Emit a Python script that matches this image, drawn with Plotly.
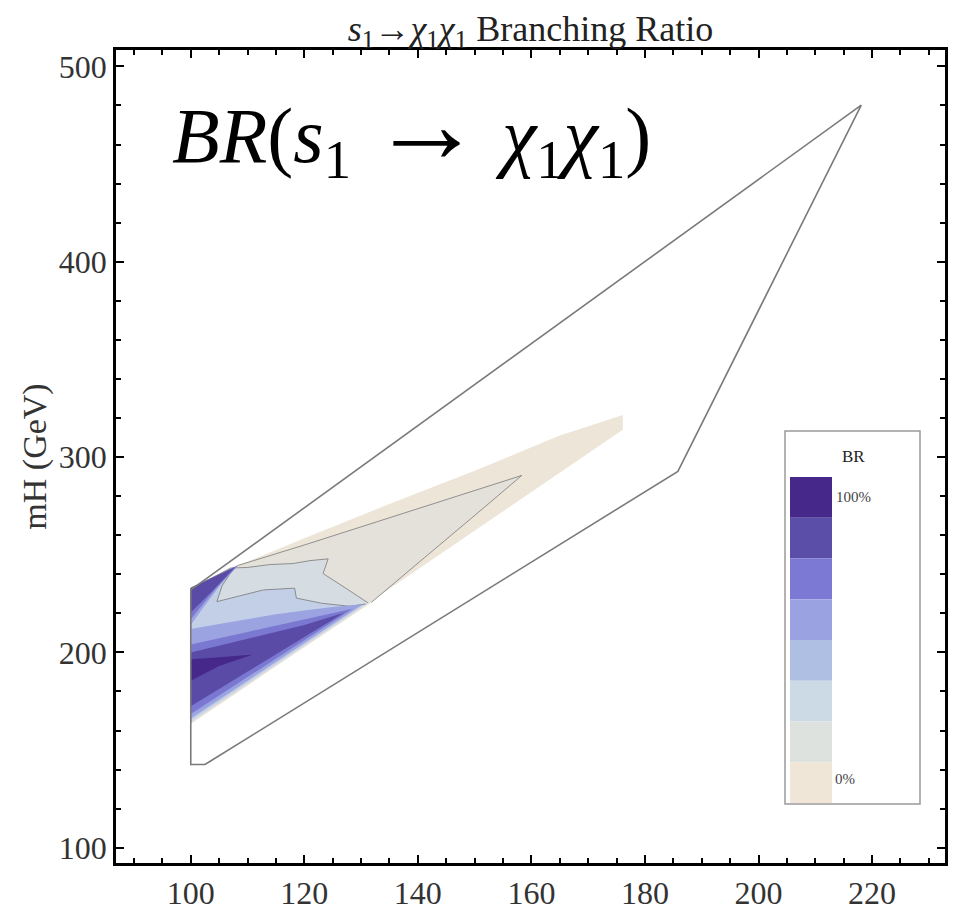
import plotly.graph_objects as go

# ---------------- data ----------------
# allowed-region outline (mS1 vs mH, GeV)
outline_x = [100, 100, 102.5, 185.8, 218.1, 100]
outline_y = [232.0, 142.6, 142.6, 292.7, 480.2, 232.0]

# contour level regions (superlevel sets), lowest level first
lvl1_x = [100, 100, 104, 108.4, 120, 133.3, 150, 165, 176.1, 176.1]
lvl1_y = [163.3, 232.9, 238.5, 244.6, 258.5, 274, 293, 311, 321.6, 314]

lvl2_x = [100, 100, 104, 108.4, 120, 133, 145, 158.3, 152, 145, 138, 131.8]
lvl2_y = [163.8, 232.9, 238.5, 244.6, 255, 267, 278.2, 290.6, 275, 258, 241, 225.6]

lvl3_x = [100, 100, 104, 107, 110, 114, 118, 121, 124.2, 123.3, 127.5, 131.2]
lvl3_y = [164.3, 232.9, 238.5, 243.2, 243.5, 245, 245.5, 247, 247.9, 240.4, 232.5, 225.4]

lvl4_x = [100, 100, 104, 107.6, 105.5, 104.6, 108, 112.8, 118.3, 118.6, 123, 128, 130.8]
lvl4_y = [165.0, 232.9, 238.5, 243.3, 234, 226, 228.5, 232, 232.9, 227.8, 225.2, 223.6, 224.8]

lvl5_x = [100, 100, 105, 110, 115, 120, 125, 130.3]
lvl5_y = [166.2, 212, 214.5, 217, 219.5, 221.5, 223.3, 224.6]
lvl5b_x = [100, 100, 104, 108.4, 105.5, 102.2]
lvl5b_y = [214, 232.9, 238.5, 244.6, 235.5, 223]

lvl6_x = [100, 100, 110, 120, 128.5]
lvl6_y = [168.5, 204, 210.5, 217, 222.3]
lvl6b_x = [100, 100, 104, 108.2, 104.5, 101.5]
lvl6b_y = [217, 232.9, 238.5, 244.3, 233, 222.5]

lvl7_x = [100, 100, 110, 120, 127]
lvl7_y = [172.5, 200, 207, 214, 220.3]
lvl7b_x = [100, 100, 104, 107.8, 103.5]
lvl7b_y = [220.5, 232.9, 238.5, 243.7, 230.5]

lvl8_x = [100, 100, 105, 111, 105]
lvl8_y = [185.5, 196.5, 197.5, 199, 193]

# legend (BR) swatches, top (100%) to bottom (0%)
legend_colors = ["#46288a", "#5b4ea8", "#7b79d3", "#9aa2e1",
                 "#afbee3", "#cbdae5", "#dde2df", "#efe6d8"]
legend_top_label = "100%"
legend_bottom_label = "0%"

# ---------------- styles ----------------
fill_colors = {
    1: "#eee5d9", 2: "#e4e1db", 3: "#d6dde2", 4: "#c3cfe6",
    5: "#9ba4e0", 6: "#7b78d1", 7: "#5a4ca6", 8: "#46288a",
}
SERIF = "Liberation Serif"

fig = go.Figure()

def region(xs, ys, level, edge=False):
    fig.add_trace(go.Scatter(
        x=xs, y=ys, mode="lines", fill="toself",
        fillcolor=fill_colors[level],
        line=dict(color="rgba(115,115,115,0.75)" if edge else "rgba(0,0,0,0)",
                  width=1 if edge else 0),
        hoverinfo="skip", showlegend=False))

region(lvl1_x, lvl1_y, 1)
region(lvl2_x, lvl2_y, 2, edge=True)
region(lvl3_x, lvl3_y, 3, edge=True)
region(lvl4_x, lvl4_y, 4, edge=True)
region(lvl5_x, lvl5_y, 5)
region(lvl5b_x, lvl5b_y, 5)
region(lvl6_x, lvl6_y, 6)
region(lvl6b_x, lvl6b_y, 6)
region(lvl7_x, lvl7_y, 7)
region(lvl7b_x, lvl7b_y, 7)
region(lvl8_x, lvl8_y, 8)

fig.add_trace(go.Scatter(x=outline_x, y=outline_y, mode="lines",
                         line=dict(color="#7a7a7a", width=1.6),
                         hoverinfo="skip", showlegend=False))

# plot-area geometry in pixels (for placing legend box / labels)
L, R, T, B = 116, 945, 50, 878
W, H = 965, 923

def px(xp, yp):
    return (xp - L) / (R - L), (B - yp) / (B - T)

shapes = []
# legend box
x0, y0 = px(785, 818)
x1, y1 = px(920, 438)
shapes.append(dict(type="rect", xref="paper", yref="paper", x0=x0, y0=y0, x1=x1, y1=y1,
                   line=dict(color="#9a9a9a", width=1.5), fillcolor="white", layer="above"))
sw_top, sw_bot = 485, 817
n = len(legend_colors)
h = (sw_bot - sw_top) / n
for i, c in enumerate(legend_colors):
    a0, b0 = px(790, sw_top + (i + 1) * h)
    a1, b1 = px(832, sw_top + i * h)
    shapes.append(dict(type="rect", xref="paper", yref="paper", x0=a0, y0=b0, x1=a1, y1=b1,
                       line=dict(width=0), fillcolor=c, layer="above"))

annotations = []
bx, by = px(853, 464)
annotations.append(dict(text="BR", xref="paper", yref="paper", x=bx, y=by, showarrow=False,
                        font=dict(family=SERIF, size=17, color="#222"), xanchor="center", yanchor="middle"))
tx, ty = px(834, 505)
annotations.append(dict(text=legend_top_label, xref="paper", yref="paper", x=tx, y=ty, showarrow=False,
                        font=dict(family=SERIF, size=15, color="#444"), xanchor="left", yanchor="middle"))
zx, zy = px(833, 792)
annotations.append(dict(text=legend_bottom_label, xref="paper", yref="paper", x=zx, y=zy, showarrow=False,
                        font=dict(family=SERIF, size=15, color="#444"), xanchor="left", yanchor="middle"))
# big formula label
fx, fy = px(170, 127)
annotations.append(dict(
    text=("<i>BR</i>(<i>s</i><sub>1</sub> "
          "<span style='font-family:Liberation Serif;font-size:112px'>→</span>"
          " <i>χ</i><sub>1</sub><i>χ</i><sub>1</sub>)"),
    xref="paper", yref="paper", x=fx, y=fy, showarrow=False,
    font=dict(family=SERIF, size=78, color="black"), xanchor="left", yanchor="middle"))

fig.update_layout(
    width=W, height=H,
    margin=dict(l=L, r=W - R, t=T, b=H - B),
    paper_bgcolor="white", plot_bgcolor="white",
    showlegend=False,
    title=dict(text="<i>s</i><sub>1</sub>→<i>χ</i><sub>1</sub><i>χ</i><sub>1</sub> Branching Ratio",
               x=0.5, xref="paper", xanchor="center", y=1 - 28 / H, yanchor="middle",
               font=dict(family=SERIF, size=36, color="#222")),
    shapes=shapes, annotations=annotations,
)

axis_common = dict(showgrid=False, zeroline=False, showline=True, linecolor="black",
                   linewidth=2.5, mirror="allticks", ticks="inside", ticklen=8,
                   tickwidth=2, tickcolor="black",
                   tickfont=dict(family=SERIF, size=32, color="#333"))
fig.update_xaxes(range=[86.83, 232.85], dtick=20, tick0=100,
                 minor=dict(ticks="inside", dtick=5, ticklen=5, tickwidth=1.5, tickcolor="black"),
                 **axis_common)
fig.update_yaxes(range=[92.2, 508.4], dtick=100, tick0=100,
                 minor=dict(ticks="inside", dtick=20, ticklen=5, tickwidth=1.5, tickcolor="black"),
                 title=dict(text="mH (GeV)", font=dict(family=SERIF, size=34, color="#333"), standoff=2),
                 **axis_common)

fig.write_html("out.html")
